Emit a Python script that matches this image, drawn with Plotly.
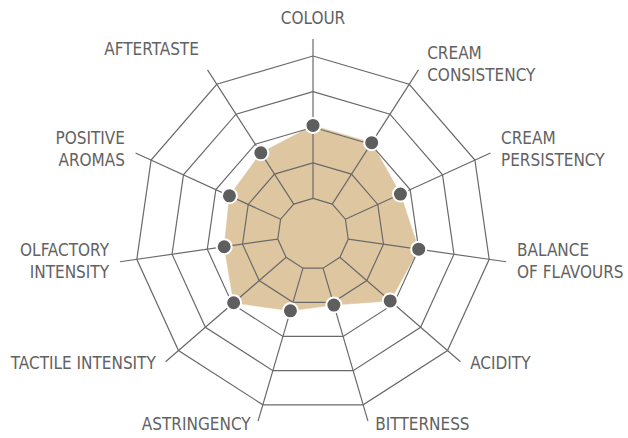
import plotly.graph_objects as go

categories = ["COLOUR", "CREAM CONSISTENCY", "CREAM PERSISTENCY", "BALANCE OF FLAVOURS",
              "ACIDITY", "BITTERNESS", "ASTRINGENCY", "TACTILE INTENSITY",
              "OLFACTORY INTENSITY", "POSITIVE AROMAS", "AFTERTASTE"]
label_text = ["COLOUR", "CREAM<br>CONSISTENCY", "CREAM<br>PERSISTENCY", "BALANCE<br>OF FLAVOURS",
              "ACIDITY", "BITTERNESS", "ASTRINGENCY", "TACTILE INTENSITY",
              "OLFACTORY<br>INTENSITY", "POSITIVE<br>AROMAS", "AFTERTASTE"]
label_anchor = ["top center", "middle right", "middle right", "middle right",
                "middle right", "middle right", "middle left", "middle left",
                "middle left", "middle left", "top left"]
values = [3.05, 3.05, 2.7, 3.0, 2.87, 2.08, 2.25, 2.95, 2.52, 2.58, 2.71]
ring_levels = [1, 2, 3, 4, 5]
spoke_start = 1
spoke_end = 5.48
label_r = 5.62
axis_max = 5.66

GRID = "#6a6a6a"
FILL = "#dec7a0"
DOT = "#5e5e5e"
TEXT = "#626262"
FONT = "Liberation Sans Narrow, DejaVu Sans Condensed, sans-serif"

fig = go.Figure()

# data fill
fig.add_trace(go.Scatterpolar(
    r=values + [values[0]], theta=categories + [categories[0]],
    mode="lines", fill="toself", fillcolor=FILL,
    line=dict(color=FILL, width=0.5), hoverinfo="skip", showlegend=False))

# rings
for lvl in ring_levels:
    fig.add_trace(go.Scatterpolar(
        r=[lvl] * (len(categories) + 1), theta=categories + [categories[0]],
        mode="lines", line=dict(color=GRID, width=1.2),
        hoverinfo="skip", showlegend=False))

# spokes
sr, st = [], []
for c in categories:
    sr += [spoke_start, spoke_end, None]
    st += [c, c, None]
fig.add_trace(go.Scatterpolar(
    r=sr, theta=st, mode="lines", connectgaps=False,
    line=dict(color=GRID, width=1.2), hoverinfo="skip", showlegend=False))

# markers
fig.add_trace(go.Scatterpolar(
    r=values, theta=categories, mode="markers",
    marker=dict(size=15, color=DOT, line=dict(color="white", width=2)),
    showlegend=False))

# axis labels
fig.add_trace(go.Scatterpolar(
    r=[label_r] * len(categories), theta=categories, mode="markers+text",
    text=label_text, textposition=label_anchor, cliponaxis=False,
    textfont=dict(family=FONT, size=17, color=TEXT),
    marker=dict(size=8, opacity=0), hoverinfo="skip", showlegend=False))

W, H = 628, 438
unit_px = 35.6
cx, cy = 313, 234
R = unit_px * axis_max
fig.update_layout(
    width=W, height=H,
    margin=dict(l=0, r=0, t=0, b=0),
    paper_bgcolor="white",
    font=dict(family=FONT, size=17, color=TEXT),
    polar=dict(
        domain=dict(x=[(cx - R) / W, (cx + R) / W], y=[(H - cy - R) / H, (H - cy + R) / H]),
        bgcolor="rgba(0,0,0,0)",
        gridshape="linear",
        radialaxis=dict(visible=False, range=[0, axis_max]),
        angularaxis=dict(
            direction="clockwise", rotation=90,
            categoryorder="array", categoryarray=categories,
            showgrid=False, showline=False, showticklabels=False, ticks="",
        ),
    ),
)

fig.write_html("out.html", config={"displayModeBar": False},
               post_script="document.body.style.margin='0';")
